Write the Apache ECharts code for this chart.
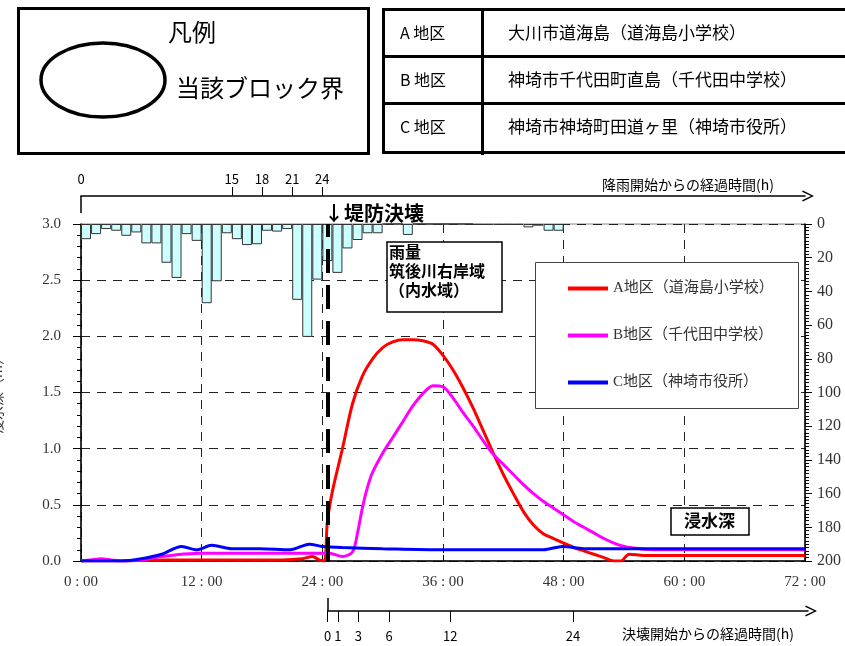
<!DOCTYPE html>
<html><head><meta charset="utf-8">
<script src="https://cdn.jsdelivr.net/npm/echarts@6/dist/echarts.min.js"></script>
<style>html,body{margin:0;padding:0;background:#fff}#c{width:845px;height:646px}</style>
</head><body><div id="c"></div>
<script>
// ---- data ----
const seriesNames = ['A地区（道海島小学校）', 'B地区（千代田中学校）', 'C地区（神埼市役所）'];
const hoursA = [0, 2, 4, 6, 8, 10, 12, 14, 16, 18, 20, 22, 23, 23.7, 24.2, 24.5, 25, 26, 27, 28, 29, 30, 31, 32, 33, 34, 35, 36, 37, 38, 39, 40, 41, 42, 43, 44, 45, 46, 47, 48, 49, 50, 51, 52, 53, 53.7, 54.5, 56, 60, 66, 72];
const depthA = [0, 0, 0, 0.005, 0.01, 0.01, 0.01, 0.01, 0.01, 0.01, 0.01, 0.02, 0.04, 0.01, 0.0, 0.35, 0.62, 1.0, 1.4, 1.65, 1.8, 1.9, 1.95, 1.97, 1.97, 1.96, 1.93, 1.83, 1.7, 1.54, 1.36, 1.16, 0.96, 0.77, 0.6, 0.44, 0.32, 0.24, 0.2, 0.16, 0.12, 0.09, 0.06, 0.03, 0.0, 0.0, 0.06, 0.05, 0.05, 0.05, 0.05];
const hoursB = [0, 1, 2, 3, 4, 6, 8, 9, 10, 12, 14, 16, 18, 20, 22, 24, 24.7, 26, 27, 27.5, 28, 28.5, 29, 30, 31, 32, 33, 34, 35, 36, 37, 38, 39, 40, 41, 42, 43, 44, 45, 46, 47, 48, 49, 50, 51, 52, 53, 54, 55, 56, 58, 60, 66, 72];
const depthB = [0, 0.01, 0.02, 0.01, 0, 0.01, 0.04, 0.05, 0.06, 0.07, 0.07, 0.07, 0.07, 0.07, 0.07, 0.07, 0.07, 0.04, 0.08, 0.25, 0.48, 0.66, 0.79, 0.96, 1.1, 1.24, 1.38, 1.49, 1.56, 1.55, 1.45, 1.32, 1.2, 1.07, 0.95, 0.86, 0.77, 0.68, 0.6, 0.53, 0.47, 0.41, 0.35, 0.3, 0.25, 0.2, 0.16, 0.13, 0.115, 0.105, 0.1, 0.1, 0.1, 0.1];
const hoursC = [0, 2, 4, 6, 8, 10, 11.5, 13, 15, 17.8, 20.8, 22.7, 24, 26, 30, 36, 42, 46, 47.9, 50, 60, 72];
const depthC = [0, 0, 0, 0.02, 0.06, 0.13, 0.10, 0.14, 0.11, 0.11, 0.10, 0.15, 0.13, 0.12, 0.11, 0.10, 0.10, 0.10, 0.13, 0.11, 0.11, 0.11];
const rainHours = [0,1,2,3,4,5,6,7,8,9,10,11,12,13,14,15,16,17,18,19,20,21,22,23,24,25,26,27,28,29,30,31,32,33,34,35,36,37,38,39,40,41,42,43,44,45,46,47];
const rainMm = [9,6,3,4,7,5,11.5,11.5,23,32,6,10,47,34,5.5,9,12.5,12,4,4.5,3,45,67,33,22,29,14.5,9.5,5.5,5.5,0,0,6.5,0,0,0,0,0,0,0.5,0.5,0.5,0.5,0.5,2,1,4,4];
const timeTickLabels = ['0:00','12:00','24:00','36:00','48:00','60:00','72:00'];
const rainStartTicks = [0, 15, 18, 21, 24];
const breachTicks = [0, 1, 3, 6, 12, 24];
const breachHour = 24.5;
const depthTicks = ['0.0','0.5','1.0','1.5','2.0','2.5','3.0'];
const tableRows = [['A 地区','大川市道海島（道海島小学校）'],['B 地区','神埼市千代田町直島（千代田中学校）'],['C 地区','神埼市神埼町田道ヶ里（神埼市役所）']];

const zip = (xs, ys) => xs.map((x, i) => [x, ys[i]]);
const colors = ['#ff0000', '#ff00ff', '#0000ff'];
const JP = '"Noto Sans CJK JP", "Noto Sans", sans-serif';
const SERIF = '"Liberation Serif", "DejaVu Serif", serif';
const CHEVRON = 'path://M0,12 L6,0 L12,12 L10.6,13 L6,3.2 L1.4,13 Z';

const chart = echarts.init(document.getElementById('c'), null, {renderer: 'canvas'});

const dashGrid = {show: true, lineStyle: {color: '#222', width: 1, type: [9, 7]}};

const graphics = [];
// left legend box
graphics.push({type: 'rect', shape: {x: 18.5, y: 8.5, width: 350, height: 145}, style: {fill: 'none', stroke: '#000', lineWidth: 3}});
graphics.push({type: 'text', x: 192, y: 32, style: {text: '凡例', font: '24px ' + JP, fill: '#000', textAlign: 'center', textVerticalAlign: 'middle'}});
graphics.push({type: 'ellipse', shape: {cx: 103, cy: 80, rx: 62, ry: 37}, style: {fill: 'none', stroke: '#000', lineWidth: 3.5}});
graphics.push({type: 'text', x: 176, y: 88, style: {text: '当該ブロック界', font: '24px ' + JP, fill: '#000', textVerticalAlign: 'middle'}});
// table
graphics.push({type: 'rect', shape: {x: 383.5, y: 9.5, width: 480, height: 143}, style: {fill: 'none', stroke: '#000', lineWidth: 3}});
graphics.push({type: 'line', shape: {x1: 383, y1: 56.5, x2: 850, y2: 56.5}, style: {stroke: '#000', lineWidth: 3}});
graphics.push({type: 'line', shape: {x1: 383, y1: 103.5, x2: 850, y2: 103.5}, style: {stroke: '#000', lineWidth: 3}});
graphics.push({type: 'line', shape: {x1: 482.5, y1: 9, x2: 482.5, y2: 155}, style: {stroke: '#000', lineWidth: 3}});
tableRows.forEach((r, i) => {
  const cy = 33 + i * 47;
  graphics.push({type: 'text', x: 400, y: cy, style: {text: r[0], font: '16px ' + JP, fill: '#000', textVerticalAlign: 'middle'}});
  graphics.push({type: 'text', x: 508, y: cy, style: {text: r[1], font: '17px ' + JP, fill: '#000', textVerticalAlign: 'middle'}});
});
// axis titles
graphics.push({type: 'text', x: 602, y: 185, style: {text: '降雨開始からの経過時間(h)', font: '14px ' + JP, fill: '#000', textVerticalAlign: 'middle'}});
graphics.push({type: 'text', x: 622, y: 634, style: {text: '決壊開始からの経過時間(h)', font: '14px ' + JP, fill: '#000', textVerticalAlign: 'middle'}});
// breach label
graphics.push({type: 'text', x: 324, y: 213, style: {text: '↓堤防決壊', font: 'bold 20px ' + JP, fill: '#000', textVerticalAlign: 'middle'}, z: 20});
// rain box
graphics.push({type: 'rect', shape: {x: 387, y: 242, width: 115, height: 70}, style: {fill: '#fff', stroke: '#000', lineWidth: 1.5}, z: 5});
['雨量', '筑後川右岸域', '（内水域）'].forEach((t, i) => {
  graphics.push({type: 'text', x: 389, y: 252 + i * 19, style: {text: t, font: 'bold 16px ' + JP, fill: '#000', textVerticalAlign: 'middle'}, z: 6});
});
// legend box
graphics.push({type: 'rect', shape: {x: 535.5, y: 262.5, width: 263, height: 146}, style: {fill: '#fff', stroke: '#444', lineWidth: 1}, z: 5});
// 浸水深 label box
graphics.push({type: 'rect', shape: {x: 671, y: 508, width: 78, height: 27}, style: {fill: '#fff', stroke: '#000', lineWidth: 1.5}, z: 5});
graphics.push({type: 'text', x: 684, y: 521, style: {text: '浸水深', font: 'bold 17px ' + JP, fill: '#000', textVerticalAlign: 'middle'}, z: 6});

const option = {
  animation: false,
  backgroundColor: '#fff',
  grid: [
    {left: 81, right: 40, top: 224, bottom: 85, show: true, borderColor: '#888', borderWidth: 1, backgroundColor: 'transparent', outerBoundsMode: 'none', containLabel: false},
    {left: 327.7, right: 37, top: 590, bottom: 35, outerBoundsMode: 'none', containLabel: false}
  ],
  legend: {
    data: seriesNames, orient: 'vertical', left: 563, top: 276, itemGap: 32,
    icon: 'rect', itemWidth: 40, itemHeight: 4, z: 10,
    textStyle: {fontFamily: SERIF + ', "Noto Sans CJK JP"', fontSize: 15, color: '#333'}
  },
  xAxis: [
    {type: 'value', gridIndex: 0, min: 0, max: 72, interval: 12, position: 'bottom',
     axisLine: {onZero: false, lineStyle: {color: '#000', width: 1.5}},
     axisTick: {inside: true, length: 6, lineStyle: {color: '#000'}},
     axisLabel: {formatter: v => timeTickLabels[v / 12].replace(':', ' : '), fontFamily: SERIF, fontSize: 15, color: '#333', margin: 14},
     splitLine: dashGrid},
    {type: 'value', gridIndex: 0, min: 0, max: 72, position: 'top', offset: 28,
     axisLine: {show: true, onZero: false, symbol: ['none', CHEVRON], symbolSize: [16, 12], symbolOffset: [0, 3], lineStyle: {color: '#000', width: 1.5}},
     axisTick: {show: true, customValues: rainStartTicks.slice(1), length: 9, lineStyle: {color: '#000'}},
     axisLabel: {show: true, customValues: rainStartTicks, fontFamily: JP, fontSize: 13, color: '#000', margin: 10},
     splitLine: {show: false}},
    {type: 'value', gridIndex: 0, min: 0, max: 72, position: 'top', offset: 28,
     axisLine: {show: false, onZero: false},
     axisTick: {show: true, customValues: [0], inside: true, length: 17, lineStyle: {color: '#000', width: 1.5}},
     axisLabel: {show: false}, splitLine: {show: false}},
    {type: 'value', gridIndex: 1, min: 0, max: 47, position: 'bottom',
     axisLine: {show: true, onZero: false, symbol: ['none', CHEVRON], symbolSize: [16, 12], symbolOffset: [0, 3], lineStyle: {color: '#000', width: 1.5}},
     axisTick: {show: true, customValues: breachTicks, length: 11, lineStyle: {color: '#000'}},
     axisLabel: {show: true, customValues: breachTicks, fontFamily: JP, fontSize: 13, color: '#000', margin: 19},
     splitLine: {show: false}},
    {type: 'value', gridIndex: 1, min: 0, max: 47, position: 'bottom',
     axisLine: {show: false, onZero: false},
     axisTick: {show: true, customValues: [0], inside: true, length: 13, lineStyle: {color: '#000', width: 1.5}},
     axisLabel: {show: false}, splitLine: {show: false}}
  ],
  yAxis: [
    {type: 'value', gridIndex: 0, min: 0, max: 3, interval: 0.5, position: 'left',
     name: '浸水深（m）', nameLocation: 'middle', nameGap: 77, nameRotate: 90,
     nameTextStyle: {fontFamily: JP, fontSize: 14, color: '#333'},
     axisLine: {show: true, onZero: false, lineStyle: {color: '#000', width: 1.5}},
     axisTick: {show: true, length: 8, lineStyle: {color: '#000'}},
     minorTick: {show: true, splitNumber: 5, length: 4, lineStyle: {color: '#000'}},
     axisLabel: {formatter: v => depthTicks[Math.round(v * 2)], fontFamily: SERIF, fontSize: 15, color: '#333', margin: 20},
     splitLine: dashGrid},
    {type: 'value', gridIndex: 0, min: 0, max: 200, interval: 20, position: 'right', inverse: true,
     axisLine: {show: true, onZero: false, lineStyle: {color: '#000', width: 1.5}},
     axisTick: {show: true, length: 7, lineStyle: {color: '#000'}},
     minorTick: {show: true, splitNumber: 10, length: 4, lineStyle: {color: '#000'}},
     axisLabel: {fontFamily: SERIF, fontSize: 16, color: '#333', margin: 12},
     splitLine: {show: false}},
    {type: 'value', gridIndex: 1, show: false}
  ],
  series: [
    {type: 'bar', name: '雨量', xAxisIndex: 0, yAxisIndex: 1, barWidth: 10,
     data: rainHours.map((h, i) => [h + 0.5, rainMm[i]]),
     itemStyle: {color: '#ccffff', borderColor: '#333', borderWidth: 1}, z: 1},
    {type: 'line', name: seriesNames[0], xAxisIndex: 0, yAxisIndex: 0, data: zip(hoursA, depthA), smooth: 0.3,
     showSymbol: false, lineStyle: {color: colors[0], width: 3}, itemStyle: {color: colors[0]}, z: 3,
     markLine: {silent: true, symbol: 'none', label: {show: false},
       lineStyle: {color: '#000', width: 4, type: [24, 12]}, data: [{xAxis: breachHour}]}},
    {type: 'line', name: seriesNames[1], xAxisIndex: 0, yAxisIndex: 0, data: zip(hoursB, depthB), smooth: 0.3,
     showSymbol: false, lineStyle: {color: colors[1], width: 3}, itemStyle: {color: colors[1]}, z: 3},
    {type: 'line', name: seriesNames[2], xAxisIndex: 0, yAxisIndex: 0, data: zip(hoursC, depthC), smooth: 0.3,
     showSymbol: false, lineStyle: {color: colors[2], width: 3}, itemStyle: {color: colors[2]}, z: 3}
  ],
  graphic: graphics
};
chart.setOption(option);
</script>
</body></html>
